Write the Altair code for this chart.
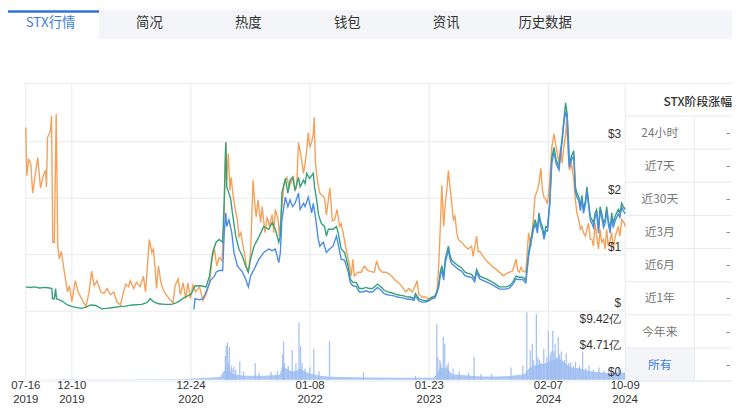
import altair as alt
import pandas as pd

START = "2019-07-16"

# (days since 2019-07-16, value in $)
orange = [(0,3.25),(3,2.4),(9,2.7),(16,2.6),(22,2.09),(28,2.32),(38,2.72),(47,2.18),(54,2.37),(63,2.5),(66,2.2),(69,3.07),(79,3.2),(82,3.46),(86,1.22),(91,1.22),(97,3.49),(102,1.15),(107,0.92),(113,1.06),(123,0.69),(133,0.34),(139,0.45),(147,0.17),(158,0.54),(167,0.34),(180,0.2),(192,0.08),(202,0.34),(210,0.71),(218,0.45),(227,0.54),(239,0.34),(249,0.31),(259,0.4),(270,0.29),(281,0.34),(290,0.17),(302,0.11),(312,0.34),(319,0.48),(328,0.43),(333,0.54),(344,0.4),(353,0.51),(365,0.43),(375,0.62),(382,0.34),(394,1.27),(402,1.04),(407,1.1),(412,0.8),(417,0.4),(423,0.8),(431,0.51),(439,0.37),(448,0.29),(460,0.2),(470,0.15),(476,0.45),(486,0.57),(493,0.29),(502,0.5),(510,0.22),(517,0.5),(525,0.22),(533,0.46),(542,0.34),(554,0.43),(565,0.19),(575,0.29),(586,0.5),(594,0.92),(602,1.1),(609,0.8),(617,0.95),(626,0.89),(630,1.39),(633,1.74),(636,2.62),(638,2.99),(641,2.32),(646,2.79),(651,2.14),(655,2.37),(662,2.02),(668,1.8),(675,1.62),(680,1.32),(686,1.39),(691,1.22),(699,0.97),(707,0.69),(712,0.8),(717,1.04),(725,2.32),(730,1.92),(735,1.67),(741,1.97),(749,1.57),(754,1.85),(763,1.39),(770,1.67),(777,1.5),(786,1.71),(791,1.39),(796,1.8),(805,1.62),(809,1.32),(817,1.85),(823,2.2),(828,2.32),(833,2.37),(840,2.2),(849,2.32),(854,2.37),(859,2.14),(864,2.2),(870,2.99),(875,2.84),(880,2.67),(886,2.44),(891,2.62),(896,2.84),(901,3.16),(906,2.9),(912,3.0),(917,3.14),(920,3.43),(924,2.62),(931,2.27),(938,2.09),(949,2.03),(953,2.0),(959,1.7),(970,2.18),(978,1.6),(985,1.62),(993,1.8),(1001,1.5),(1006,1.55),(1012,1.39),(1022,1.1),(1033,0.8),(1038,0.62),(1043,0.92),(1048,0.62),(1059,0.69),(1070,0.69),(1080,0.8),(1091,0.72),(1101,0.7),(1112,0.69),(1119,0.89),(1127,0.75),(1138,0.69),(1148,0.69),(1159,0.66),(1170,0.6),(1180,0.54),(1190,0.5),(1201,0.43),(1212,0.34),(1222,0.4),(1233,0.34),(1243,0.46),(1248,0.54),(1254,0.3),(1264,0.25),(1275,0.25),(1285,0.22),(1296,0.25),(1306,0.27),(1312,0.34),(1317,0.8),(1322,1.45),(1327,2.23),(1333,1.5),(1338,1.9),(1343,2.15),(1348,2.49),(1354,2.15),(1359,1.9),(1364,1.62),(1369,1.68),(1375,1.39),(1380,1.27),(1390,1.22),(1401,1.15),(1411,1.1),(1422,1.15),(1427,0.97),(1438,1.33),(1443,1.05),(1448,1.06),(1459,0.97),(1469,0.89),(1480,0.84),(1490,0.78),(1501,0.74),(1511,0.69),(1522,0.63),(1532,0.66),(1543,0.69),(1553,0.71),(1564,0.92),(1569,0.72),(1574,0.69),(1580,0.78),(1585,0.71),(1595,0.69),(1604,1.39),(1611,1.15),(1619,1.62),(1624,2.02),(1632,2.14),(1637,2.26),(1643,2.53),(1648,2.14),(1653,2.02),(1659,1.97),(1664,1.9),(1671,2.3),(1678,2.9),(1685,3.14),(1692,2.9),(1701,2.62),(1706,2.9),(1711,2.62),(1716,2.9),(1722,3.14),(1725,3.37),(1730,2.8),(1734,2.5),(1741,2.6),(1748,2.32),(1753,1.97),(1758,1.74),(1764,1.62),(1769,1.45),(1774,1.5),(1779,1.39),(1785,1.33),(1795,1.56),(1801,1.27),(1806,1.27),(1811,1.15),(1816,1.56),(1821,1.33),(1827,1.1),(1832,1.45),(1837,1.22),(1843,1.27),(1848,1.1),(1853,1.45),(1858,1.15),(1864,1.27),(1869,1.39),(1874,1.1),(1880,1.32),(1890,1.5),(1895,1.33),(1901,1.62),(1909,1.56),(1912,1.5)]

green = [(0,0.43),(13,0.42),(28,0.43),(44,0.41),(60,0.42),(76,0.41),(83,0.4),(85,0.22),(91,0.22),(95,0.4),(98,0.22),(107,0.2),(118,0.17),(133,0.11),(149,0.08),(176,0.05),(192,0.07),(207,0.11),(223,0.1),(242,0.04),(259,0.05),(275,0.06),(297,0.08),(318,0.09),(339,0.11),(370,0.12),(386,0.15),(397,0.22),(407,0.17),(423,0.13),(444,0.12),(465,0.12),(481,0.15),(495,0.2),(508,0.25),(527,0.3),(540,0.45),(558,0.45),(575,0.43),(586,0.62),(596,1.04),(607,1.22),(617,1.27),(628,1.22),(633,1.97),(638,2.99),(641,2.2),(648,2.09),(654,1.97),(659,1.74),(670,1.32),(680,1.1),(691,0.97),(701,0.8),(710,0.69),(717,0.92),(728,1.15),(744,1.32),(759,1.5),(775,1.45),(786,1.57),(796,1.45),(807,1.22),(812,1.33),(817,2.09),(828,2.35),(836,2.09),(843,2.32),(851,2.37),(859,2.14),(870,2.37),(875,2.2),(886,2.32),(891,2.26),(896,2.44),(905,2.35),(917,2.44),(921,2.2),(927,2.0),(934,1.7),(943,1.55),(953,1.5),(959,1.33),(965,1.45),(972,1.45),(980,1.45),(991,1.5),(996,1.4),(1006,1.1),(1017,1.04),(1028,0.8),(1035,0.57),(1043,0.51),(1054,0.51),(1064,0.4),(1075,0.4),(1085,0.42),(1096,0.4),(1106,0.4),(1122,0.48),(1133,0.43),(1143,0.37),(1154,0.34),(1164,0.33),(1175,0.31),(1185,0.29),(1196,0.28),(1206,0.27),(1217,0.25),(1227,0.25),(1238,0.22),(1243,0.31),(1254,0.22),(1264,0.2),(1275,0.18),(1285,0.2),(1296,0.25),(1306,0.27),(1317,0.46),(1322,0.69),(1327,0.8),(1333,0.62),(1338,0.92),(1343,1.04),(1348,1.15),(1354,0.97),(1359,0.9),(1369,0.85),(1380,0.8),(1390,0.77),(1401,0.69),(1411,0.67),(1422,0.65),(1432,0.57),(1438,0.74),(1448,0.62),(1469,0.57),(1490,0.51),(1511,0.43),(1532,0.43),(1543,0.45),(1553,0.51),(1564,0.62),(1574,0.6),(1585,0.6),(1595,0.55),(1604,1.04),(1611,1.27),(1619,1.5),(1625,1.62),(1632,1.45),(1637,1.74),(1643,1.56),(1648,1.5),(1653,1.33),(1659,1.5),(1664,1.48),(1671,1.9),(1678,2.72),(1685,2.9),(1692,2.67),(1701,2.56),(1706,2.84),(1711,3.08),(1716,3.37),(1722,3.69),(1727,3.49),(1730,3.14),(1734,2.62),(1741,2.75),(1748,2.84),(1753,2.2),(1758,2.09),(1764,2.02),(1769,1.85),(1774,2.05),(1779,1.8),(1785,1.95),(1790,2.2),(1795,1.95),(1801,1.67),(1806,1.62),(1811,1.56),(1816,1.74),(1821,1.8),(1827,1.45),(1832,1.85),(1837,1.74),(1843,1.56),(1848,1.62),(1853,1.85),(1858,1.62),(1864,1.45),(1869,1.74),(1874,1.56),(1880,1.68),(1890,1.8),(1895,1.74),(1901,1.91),(1906,1.85),(1912,1.8)]

blue = [(536,0.03),(540,0.22),(554,0.2),(565,0.22),(575,0.34),(586,0.5),(590,0.55),(602,0.62),(607,0.69),(617,0.72),(628,0.72),(633,1.39),(638,1.74),(641,1.5),(648,1.62),(657,1.39),(664,1.04),(675,0.8),(691,0.69),(701,0.57),(710,0.43),(717,0.62),(728,0.74),(744,0.92),(759,1.04),(775,1.1),(786,1.07),(796,1.1),(807,0.86),(812,1.04),(817,1.62),(828,2.02),(836,1.85),(843,1.97),(851,1.85),(859,1.91),(870,2.09),(875,1.8),(886,1.91),(891,1.85),(901,2.02),(912,1.74),(917,1.91),(924,1.67),(933,1.27),(938,1.15),(949,1.22),(959,1.04),(969,1.1),(980,1.15),(991,1.33),(996,1.2),(1006,0.92),(1017,0.9),(1028,0.7),(1035,0.51),(1043,0.45),(1054,0.44),(1064,0.34),(1075,0.34),(1085,0.36),(1096,0.34),(1106,0.34),(1122,0.42),(1133,0.37),(1143,0.31),(1154,0.29),(1164,0.28),(1175,0.27),(1185,0.25),(1196,0.24),(1206,0.23),(1217,0.21),(1227,0.21),(1238,0.19),(1243,0.27),(1254,0.18),(1264,0.16),(1275,0.16),(1285,0.18),(1296,0.22),(1306,0.24),(1317,0.42),(1322,0.62),(1327,0.72),(1333,0.55),(1338,0.85),(1343,0.97),(1348,1.08),(1354,0.9),(1359,0.84),(1369,0.79),(1380,0.74),(1390,0.71),(1401,0.63),(1411,0.61),(1422,0.6),(1432,0.52),(1438,0.69),(1448,0.57),(1469,0.52),(1490,0.46),(1511,0.39),(1532,0.39),(1543,0.41),(1553,0.47),(1564,0.57),(1574,0.56),(1585,0.56),(1595,0.5),(1604,0.97),(1611,1.2),(1619,1.43),(1625,1.55),(1632,1.38),(1637,1.67),(1643,1.5),(1648,1.43),(1653,1.27),(1659,1.43),(1664,1.42),(1671,1.85),(1678,2.62),(1685,2.82),(1692,2.6),(1701,2.5),(1706,2.78),(1711,3.0),(1716,3.3),(1722,3.54),(1727,3.4),(1730,3.05),(1734,2.55),(1741,2.68),(1748,2.75),(1753,2.12),(1758,2.02),(1764,1.95),(1769,1.78),(1774,1.98),(1779,1.73),(1785,1.88),(1790,2.12),(1795,1.88),(1801,1.6),(1806,1.55),(1811,1.48),(1816,1.67),(1821,1.73),(1827,1.38),(1832,1.78),(1837,1.67),(1843,1.48),(1848,1.55),(1853,1.78),(1858,1.55),(1864,1.38),(1869,1.67),(1874,1.48),(1880,1.6),(1890,1.72),(1895,1.66),(1901,1.84),(1906,1.78),(1912,1.72)]

# volume in 亿 USD: dense base level and individual tall spikes
vol_base = [(0,0.0),(120,0.05),(300,0.05),(500,0.1),(560,0.3),(620,0.5),(630,1.5),(645,1.8),(660,1.0),(700,0.7),(760,0.7),(810,0.9),(818,2.5),(830,2.0),(845,1.6),(860,1.5),(875,2.0),(900,1.2),(930,0.8),(960,0.6),(1000,0.5),(1100,0.4),(1200,0.35),(1300,0.35),(1312,1.0),(1320,2.2),(1345,2.0),(1360,1.0),(1400,0.8),(1450,0.6),(1500,0.6),(1550,0.7),(1590,1.0),(1605,2.0),(1620,2.5),(1660,3.0),(1680,3.5),(1700,3.8),(1720,3.0),(1740,2.2),(1770,2.0),(1800,1.5),(1850,1.2),(1912,1.3)]
vol_spikes = [(107,0.15),(631,4.2),(634,6.0),(638,6.6),(641,3.0),(644,5.8),(650,2.5),(653,2.0),(659,2.3),(665,1.8),(678,3.3),(690,1.5),(728,3.0),(740,1.2),(779,1.4),(800,1.5),(817,4.5),(820,6.8),(823,3.0),(835,2.5),(848,5.3),(860,3.0),(870,10.2),(875,6.0),(880,3.0),(890,2.0),(905,2.2),(918,5.5),(935,1.5),(969,6.9),(1079,1.3),(1248,0.7),(1317,9.9),(1320,4.0),(1327,3.5),(1330,3.0),(1338,7.6),(1343,6.4),(1350,2.5),(1354,3.0),(1370,2.0),(1390,1.5),(1420,1.2),(1438,4.1),(1460,1.0),(1495,1.0),(1558,2.2),(1596,2.5),(1609,12.0),(1620,5.2),(1627,6.4),(1630,3.5),(1640,11.7),(1645,4.0),(1650,3.5),(1655,3.0),(1664,5.5),(1674,4.0),(1679,8.7),(1685,4.5),(1688,5.0),(1693,8.7),(1697,5.0),(1701,6.4),(1705,4.0),(1711,7.6),(1715,4.5),(1721,5.0),(1730,3.5),(1737,4.7),(1745,3.0),(1751,3.1),(1760,2.5),(1767,3.2),(1780,2.5),(1790,5.0),(1800,2.0),(1811,2.6),(1825,1.8),(1843,2.2),(1860,1.6),(1874,1.9),(1890,1.5),(1906,2.2)]

tick_dates = ["2019-07-16", "2019-12-10", "2020-12-24", "2022-01-08", "2023-01-23", "2024-02-07", "2024-10-09"]
tick_md = ["07-16", "12-10", "12-24", "01-08", "01-23", "02-07", "10-09"]
tick_year = ["2019", "2019", "2020", "2022", "2023", "2024", "2024"]
price_ticks = [3, 2, 1, 0]
price_labels = ["$3", "$2", "$1", "$"]
vol_ticks = [9.42, 4.71, 0]
vol_labels = ["$9.42亿", "$4.71亿", "$0"]
tabs = ["STX行情", "简况", "热度", "钱包", "资讯", "历史数据"]
rows = ["24小时", "近7天", "近30天", "近3月", "近6月", "近1年", "今年来", "所有"]
table_title = "STX阶段涨幅"

FONT = "Noto Sans CJK SC"
NUM_FONT = "Liberation Sans"
GRID = "#e7eaef"
BLUE_UI = "#3b7ddd"


def frame(pairs):
    d = pd.DataFrame(pairs, columns=["day", "value"])
    d["date"] = pd.Timestamp(START) + pd.to_timedelta(d["day"], unit="D")
    return d[["date", "value"]]


xs = alt.Scale(domain=[alt.DateTime(year=2019, month=7, date=16), alt.DateTime(year=2024, month=10, date=9)],
               range=[18, 624])
ps = alt.Scale(domain=[0, 4], range=[304.3, 75.9])
vs = alt.Scale(domain=[0, 9.42], range=[373.7, 320])
X = alt.X("date:T", scale=xs, axis=None)

layers = []

# tab bar
one = pd.DataFrame({"k": [0]})
layers.append(alt.Chart(one).mark_rect(color="#f4f5f8").encode(
    x=alt.value(0), x2=alt.value(732), y=alt.value(0), y2=alt.value(29)))
layers.append(alt.Chart(one).mark_rect(color="#ffffff").encode(
    x=alt.value(0), x2=alt.value(92), y=alt.value(0), y2=alt.value(29)))
layers.append(alt.Chart(one).mark_rect(color="#2f72e0").encode(
    x=alt.value(0), x2=alt.value(92), y=alt.value(0), y2=alt.value(2.5)))
tab_df = pd.DataFrame({"tab": tabs})
layers.append(alt.Chart(tab_df).mark_text(font=FONT, fontSize=13.5, baseline="middle").encode(
    x=alt.X("tab:N", scale=alt.Scale(type="point", domain=tabs, range=[43, 543], padding=0), axis=None),
    y=alt.value(13),
    text="tab:N",
    color=alt.condition(alt.datum.tab == tabs[0], alt.value(BLUE_UI), alt.value("#333333"))))

# table background for last row
layers.append(alt.Chart(one).mark_rect(color="#f3f5f9").encode(
    x=alt.value(624), x2=alt.value(694), y=alt.value(341.5), y2=alt.value(375)))

# grid lines
layers.append(alt.Chart(pd.DataFrame({"v": price_ticks})).mark_rule(color=GRID, strokeWidth=1).encode(
    y=alt.Y("v:Q", scale=ps, axis=None), x=alt.value(18), x2=alt.value(624)))
layers.append(alt.Chart(pd.DataFrame({"date": pd.to_datetime(tick_dates)})).mark_rule(color=GRID, strokeWidth=1).encode(
    x=X, y=alt.value(74), y2=alt.value(375)))
layers.append(alt.Chart(pd.DataFrame({"b": [0, 1]})).mark_rule(color=GRID, strokeWidth=1).encode(
    y=alt.Y("b:Q", scale=alt.Scale(domain=[0, 1], range=[74, 375]), axis=None), x=alt.value(18), x2=alt.value(732)))
# table row lines and column divider
layers.append(alt.Chart(pd.DataFrame({"r": list(range(len(rows) + 1))})).mark_rule(color=GRID, strokeWidth=1).encode(
    y=alt.Y("r:Q", scale=alt.Scale(domain=[0, len(rows)], range=[107, 375]), axis=None), x=alt.value(624), x2=alt.value(732)))
layers.append(alt.Chart(one).mark_rule(color=GRID, strokeWidth=1).encode(
    x=alt.value(694), y=alt.value(107), y2=alt.value(375)))

# volume
layers.append(alt.Chart(frame(vol_base)).mark_area(color="#9dbdf1", opacity=0.85, interpolate="linear").encode(
    x=X, y=alt.Y("value:Q", scale=vs, axis=None)))
layers.append(alt.Chart(frame(vol_spikes)).mark_bar(color="#9dbdf1", opacity=0.9, size=1.3).encode(
    x=X, y=alt.Y("value:Q", scale=vs, axis=None)))

# price lines
for pairs, col in [(orange, "#f5a15a"), (green, "#35a07a"), (blue, "#4b8de6")]:
    layers.append(alt.Chart(frame(pairs)).mark_line(color=col, strokeWidth=1.4).encode(
        x=X, y=alt.Y("value:Q", scale=ps, axis=None)))

# axis labels
layers.append(alt.Chart(pd.DataFrame({"v": price_ticks, "t": price_labels})).mark_text(
    font=NUM_FONT, fontSize=12, color="#333333", align="right", baseline="middle", dy=-8).encode(
    y=alt.Y("v:Q", scale=ps, axis=None), x=alt.value(620), text="t:N"))
layers.append(alt.Chart(pd.DataFrame({"v": vol_ticks, "t": vol_labels})).mark_text(
    font=NUM_FONT, fontSize=12, color="#333333", align="right", baseline="middle", dy=-8).encode(
    y=alt.Y("v:Q", scale=vs, axis=None), x=alt.value(620), text="t:N"))
date_df = pd.DataFrame({"date": pd.to_datetime(tick_dates), "md": tick_md, "yr": tick_year})
layers.append(alt.Chart(date_df).mark_text(
    font=NUM_FONT, fontSize=11.5, color="#333333", align="center", baseline="middle").encode(
    x=X, y=alt.value(380.5), text="md:N"))
layers.append(alt.Chart(date_df).mark_text(
    font=NUM_FONT, fontSize=11.5, color="#333333", align="center", baseline="bottom").encode(
    x=X, y=alt.value(399), text="yr:N"))

# table text
layers.append(alt.Chart(pd.DataFrame({"t": [table_title]})).mark_text(
    font=FONT, fontSize=12, color="#333333", align="right", baseline="middle", fontWeight=500).encode(
    x=alt.value(732), y=alt.value(93), text="t:N"))
row_df = pd.DataFrame({"row": rows})
ry = alt.Y("row:N", scale=alt.Scale(type="point", domain=rows, range=[124, 358.5], padding=0), axis=None)
layers.append(alt.Chart(row_df).mark_text(font=FONT, fontSize=12, baseline="middle").encode(
    y=ry, x=alt.value(659), text="row:N",
    color=alt.condition(alt.datum.row == rows[-1], alt.value(BLUE_UI), alt.value("#777777"))))
layers.append(alt.Chart(row_df).mark_text(font=FONT, fontSize=12, baseline="middle", color="#777777", text="-").encode(
    y=ry, x=alt.value(728)))

chart = alt.layer(*layers).resolve_scale(x="independent", y="independent").properties(
    width=732, height=399,
    autosize=alt.AutoSizeParams(type="fit", contains="padding"),
    padding=0,
    background="#ffffff",
).configure_view(stroke=None)

chart.save("out.html", embed_options={"renderer": "svg", "actions": False})
